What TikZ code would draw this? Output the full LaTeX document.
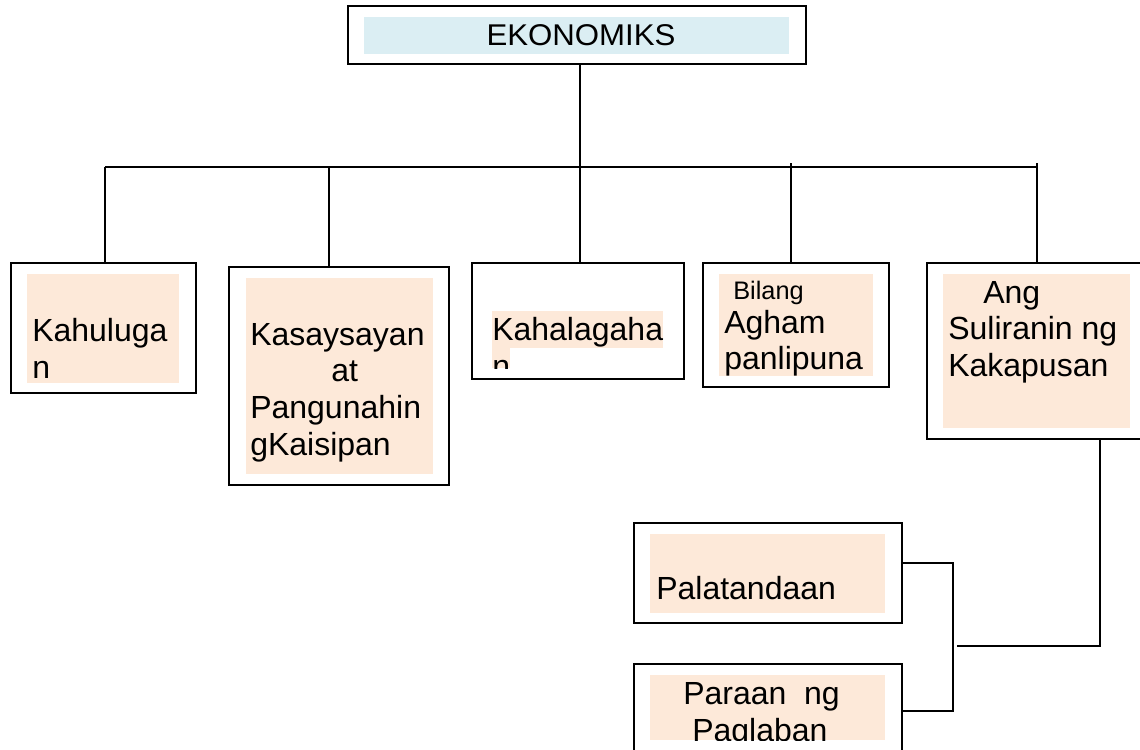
\documentclass[tikz,border=0pt]{standalone}
\usepackage{fontspec}
\setmainfont{Liberation Sans}
\usetikzlibrary{fit}
\definecolor{peach}{RGB}{253,233,217}
\definecolor{paleblue}{RGB}{219,238,243}
\tikzset{
  outerbox/.style={draw=black, line width=1.4pt, inner sep=0pt, fill=white},
  peachbox/.style={fill=peach, draw=none, inner sep=0pt},
  bluebox/.style={fill=paleblue, draw=none, inner sep=0pt},
  lbl/.style={anchor=base west, inner sep=0pt, font=\fontsize{24}{27.5}\selectfont},
  smalllbl/.style={anchor=base west, inner sep=0pt, font=\fontsize{19}{22}\selectfont},
  conn/.style={draw=black, line width=1.1pt}
}
\begin{document}
\begin{tikzpicture}[x=0.75pt,y=-0.75pt]
\clip (0,0) rectangle (1140,750);
\fill[white] (0,0) rectangle (1140,750);

% EKONOMIKS
\node[outerbox, fit={(348,6) (806,64)}] (eko) {};
\node[bluebox, fit={(364,17) (789,54)}] (ekofill) {};
\node[anchor=base, inner sep=0pt, font=\fontsize{22.5}{25}\selectfont] (ekotxt) at (581,45) {\scalebox{1.04}[1]{EKONOMIKS}};

% bus coordinates
\coordinate (busL) at (105,167);
\coordinate (busR) at (1037,167);
\coordinate (d1) at (105,167);
\coordinate (d2) at (329,167);
\coordinate (d3) at (580,167);
\coordinate (d4) at (791,163);
\coordinate (d5) at (1037,163);

% Kahulugan
\node[outerbox, fit={(11,263) (196,393)}] (kah) {};
\node[peachbox, fit={(27,274) (179,383)}] (kahfill) {};
\node[lbl] (kaht1) at (32,341) {Kahuluga};
\node[lbl] (kaht2) at (32,378) {n};

% Kasaysayan
\node[outerbox, fit={(229,267) (449,485)}] (kas) {};
\node[peachbox, fit={(246,278) (433,474)}] (kasfill) {};
\node[lbl] (kast1) at (250,345) {Kasaysayan};
\node[lbl] (kast2) at (331,381) {at};
\node[lbl] (kast3) at (250,418) {Pangunahin};
\node[lbl] (kast4) at (250,455) {gKaisipan};

% Kahalagahan
\node[outerbox, fit={(472,263) (684,379)}] (kahal) {};
\node[peachbox, fit={(492,311) (663,348)}] (kahalfill1) {};
\node[peachbox, fit={(492,348) (510,368)}] (kahalfill2) {};
\node[lbl] (kahalt1) at (492,340) {Kahalagaha};
\begin{scope}
\clip (480,348) rectangle (670,368);
\node[lbl] (kahalt2) at (492,377) {n};
\end{scope}

% Agham
\node[outerbox, fit={(703,263) (889,387)}] (agh) {};
\node[peachbox, fit={(719,274) (873,376)}] (aghfill) {};
\node[smalllbl] (aght1) at (733,299) {Bilang};
\node[lbl] (aght2) at (724,333) {Agham};
\begin{scope}
\clip (715,340) rectangle (880,376);
\node[lbl] (aght3) at (724,369) {panlipuna};
\end{scope}

% Ang Suliranin
\node[outerbox, fit={(927,263) (1150,439)}] (ang) {};
\node[peachbox, fit={(943,274) (1130,428)}] (angfill) {};
\node[lbl] (angt1) at (983,303) {Ang};
\node[lbl] (angt2) at (948,339) {Suliranin ng};
\node[lbl] (angt3) at (948,376) {Kakapusan};

% Palatandaan
\node[outerbox, fit={(634,523) (902,623)}] (pal) {};
\node[peachbox, fit={(650,534) (885,613)}] (palfill) {};
\node[lbl] (palt) at (656,599) {Palatandaan};

% Paraan ng Paglaban
\node[outerbox, fit={(634,664) (902,760)}] (par) {};
\node[peachbox, fit={(650,675) (885,740)}] (parfill) {};
\node[lbl] (part1) at (683,704) {Paraan\ \ ng};
\begin{scope}
\clip (640,710) rectangle (890,740);
\node[lbl] (part2) at (692,741) {Paglaban};
\end{scope}

% connectors
\draw[conn] (eko.south -| d3) -- (d3);
\draw[conn] (busL) -- (busR);
\draw[conn] (d1) -- (d1 |- kah.north);
\draw[conn] (d2) -- (d2 |- kas.north);
\draw[conn] (d3) -- (d3 |- kahal.north);
\draw[conn] (d4) -- (d4 |- agh.north);
\draw[conn] (d5) -- (d5 |- ang.north);

\coordinate (jr) at (1100,646);
\coordinate (jl) at (957,646);
\coordinate (bt) at (953,563);
\coordinate (bb) at (953,711);
\draw[conn] (jr |- ang.south) -- (jr) -- (jl);
\draw[conn] (pal.east |- bt) -- (bt) -- (bb) -- (par.east |- bb);
\end{tikzpicture}
\end{document}
